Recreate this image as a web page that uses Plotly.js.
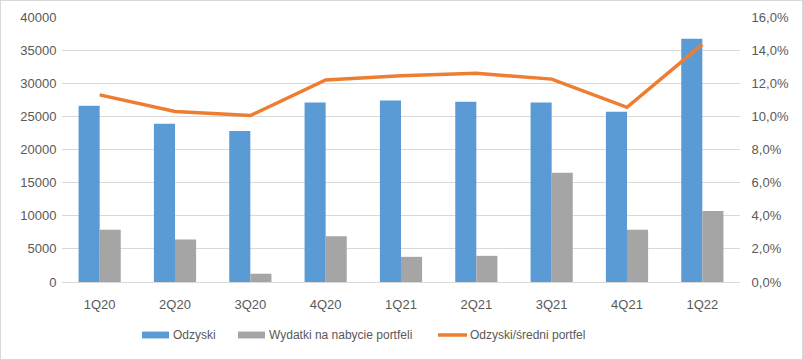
<!DOCTYPE html>
<html>
<head>
<meta charset="utf-8">
<script src="https://cdn.plot.ly/plotly-3.0.1.min.js"></script>
<style>
html,body{margin:0;padding:0;background:#fff;}
#chart{width:801px;height:358px;border:1px solid #d9d9d9;}
</style>
</head>
<body>
<div id="chart"></div>
<script>
const categories = ['1Q20','2Q20','3Q20','4Q20','1Q21','2Q21','3Q21','4Q21','1Q22'];
const odzyski = [26600, 23900, 22800, 27100, 27400, 27200, 27100, 25700, 36700];
const wydatki = [7900, 6400, 1250, 6900, 3800, 3950, 16500, 7900, 10700];
const odzyskiSredniPortfel = [0.113, 0.103, 0.1005, 0.122, 0.1245, 0.126, 0.1225, 0.1055, 0.1435];
const seriesNames = ['Odzyski', 'Wydatki na nabycie portfeli', 'Odzyski/średni portfel'];
const seriesColors = ['#5B9BD5', '#A5A5A5', '#ED7D31'];

const font = {family: 'Liberation Sans, Arial, sans-serif', size: 13, color: '#595959'};
const legendFont = {family: 'Liberation Sans, Arial, sans-serif', size: 12, color: '#595959'};

const data = [
  {type: 'bar', name: seriesNames[0], x: categories, y: odzyski, marker: {color: seriesColors[0]}},
  {type: 'bar', name: seriesNames[1], x: categories, y: wydatki, marker: {color: seriesColors[1]}},
  {type: 'scatter', mode: 'lines', name: seriesNames[2], x: categories, y: odzyskiSredniPortfel,
   yaxis: 'y2', line: {color: seriesColors[2], width: 3.5}}
];

// custom legend (Excel-style wide swatches)
const ly = -0.2, lh = 0.013;
const shapes = [
  {type: 'rect', xref: 'paper', yref: 'paper', x0: 0.1180, x1: 0.1578, y0: ly - lh, y1: ly + lh,
   fillcolor: seriesColors[0], line: {width: 0}},
  {type: 'rect', xref: 'paper', yref: 'paper', x0: 0.2596, x1: 0.2994, y0: ly - lh, y1: ly + lh,
   fillcolor: seriesColors[1], line: {width: 0}},
  {type: 'line', xref: 'paper', yref: 'paper', x0: 0.5546, x1: 0.5973, y0: ly, y1: ly,
   line: {color: seriesColors[2], width: 3.5}}
];
const legendX = [0.1610, 0.3026, 0.5991];
const annotations = seriesNames.map((n, i) => ({
  xref: 'paper', yref: 'paper', x: legendX[i], y: ly, xanchor: 'left', yanchor: 'middle',
  text: n, showarrow: false, font: legendFont
}));

const layout = {
  width: 801, height: 358,
  margin: {l: 61, r: 62, t: 16, b: 77},
  paper_bgcolor: '#fff', plot_bgcolor: '#fff',
  font: font,
  separators: ', ',
  barmode: 'group', bargap: 0.44, bargroupgap: 0,
  showlegend: false,
  shapes: shapes,
  annotations: annotations,
  xaxis: {showgrid: false, showline: true, linecolor: '#d9d9d9', ticks: 'outside', ticklen: 10,
          tickcolor: 'rgba(0,0,0,0)', tickfont: font, fixedrange: true},
  yaxis: {range: [0, 40000], dtick: 5000, tickformat: 'd', gridcolor: '#d9d9d9', zeroline: false,
          showline: false, tickfont: font, ticks: 'outside', ticklen: 2, tickcolor: 'rgba(0,0,0,0)'},
  yaxis2: {overlaying: 'y', side: 'right', range: [0, 0.16], dtick: 0.02, tickformat: '.1%',
           showgrid: false, zeroline: false, showline: false, tickfont: font,
           ticks: 'outside', ticklen: 8, tickcolor: 'rgba(0,0,0,0)'}
};

Plotly.newPlot('chart', data, layout, {displayModeBar: false, staticPlot: true});
</script>
</body>
</html>
